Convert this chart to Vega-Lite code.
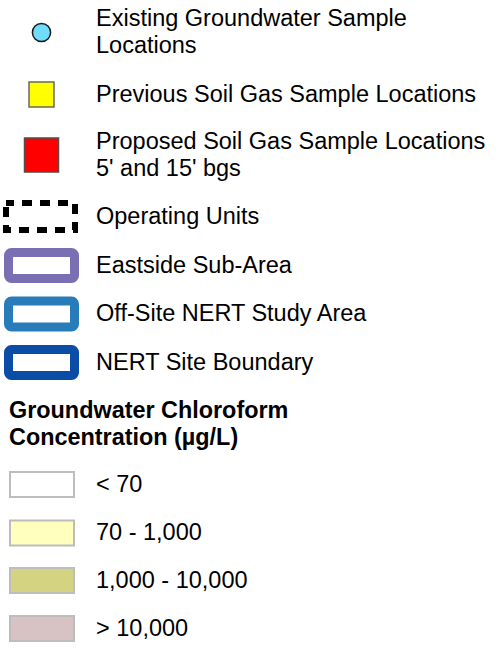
{
  "$schema": "https://vega.github.io/schema/vega-lite/v6.json",
  "width": 498,
  "height": 650,
  "padding": 0,
  "autosize": {"type": "fit", "contains": "padding"},
  "background": "white",
  "config": {"view": {"stroke": null}, "font": "Liberation Sans"},
  "data": {
    "values": [
      {"order": 1, "group": "circle", "item": "Existing Groundwater Sample Locations", "label": "Existing Groundwater Sample\nLocations"},
      {"order": 2, "group": "smallsquare", "item": "Previous Soil Gas Sample Locations", "label": "Previous Soil Gas Sample Locations"},
      {"order": 3, "group": "bigsquare", "item": "Proposed Soil Gas Sample Locations", "label": "Proposed Soil Gas Sample Locations\n5' and 15' bgs"},
      {"order": 4, "group": "dashed", "item": "Operating Units", "label": "Operating Units"},
      {"order": 5, "group": "boundary", "item": "Eastside Sub-Area", "label": "Eastside Sub-Area"},
      {"order": 6, "group": "boundary", "item": "Off-Site NERT Study Area", "label": "Off-Site NERT Study Area"},
      {"order": 7, "group": "boundary", "item": "NERT Site Boundary", "label": "NERT Site Boundary"},
      {"order": 8, "group": "title", "item": "Groundwater Chloroform Concentration (µg/L)", "label": "Groundwater Chloroform\nConcentration (µg/L)"},
      {"order": 9, "group": "class", "item": "< 70", "label": "< 70"},
      {"order": 10, "group": "class", "item": "70 - 1,000", "label": "70 - 1,000"},
      {"order": 11, "group": "class", "item": "1,000 - 10,000", "label": "1,000 - 10,000"},
      {"order": 12, "group": "class", "item": "> 10,000", "label": "> 10,000"}
    ]
  },
  "encoding": {
    "y": {
      "field": "order",
      "type": "quantitative",
      "axis": null,
      "scale": {
        "domain": [1, 2, 3, 4, 5, 6, 7, 8, 9, 10, 11, 12],
        "range": [32.5, 94.5, 155, 216.5, 265.5, 314, 362.5, 424, 484.5, 533, 580.5, 628.5],
        "zero": false,
        "nice": false
      }
    },
    "x": {"datum": 41.5, "type": "quantitative", "axis": null, "scale": {"domain": [0, 498], "zero": false, "nice": false}}
  },
  "resolve": {"scale": {"fill": "independent", "stroke": "independent"}},
  "layer": [
    {
      "transform": [{"filter": "datum.group === 'circle'"}],
      "mark": {"type": "point", "shape": "circle", "filled": true, "fill": "#70DBFA", "stroke": "#1a1a1a", "strokeWidth": 1.5, "opacity": 1, "size": 330}
    },
    {
      "transform": [{"filter": "datum.group === 'smallsquare'"}],
      "mark": {"type": "point", "shape": "square", "filled": true, "fill": "#FFFF00", "stroke": "#6a6a5a", "strokeWidth": 1.5, "opacity": 1, "size": 625}
    },
    {
      "transform": [{"filter": "datum.group === 'bigsquare'"}],
      "mark": {"type": "point", "shape": "square", "filled": true, "fill": "#FF0000", "stroke": "#5a4a4a", "strokeWidth": 1.5, "opacity": 1, "size": 1156}
    },
    {
      "transform": [{"filter": "datum.group === 'dashed'"}],
      "mark": {"type": "rect", "fill": null, "fillOpacity": 0, "stroke": "#000000", "strokeWidth": 6, "strokeDash": [10, 8], "strokeDashOffset": 2, "width": 69, "height": 27},
      "encoding": {
        "x": {"datum": 40.5, "type": "quantitative"}
      }
    },
    {
      "transform": [{"filter": "datum.group === 'boundary'"}],
      "mark": {"type": "rect", "fill": "#FFFFFF", "strokeWidth": 9, "cornerRadius": 3, "width": 66, "height": 26},
      "encoding": {
        "stroke": {"field": "item", "type": "nominal", "legend": null, "scale": {"domain": ["Eastside Sub-Area", "Off-Site NERT Study Area", "NERT Site Boundary"], "range": ["#7B6FB3", "#297CBA", "#0A4CA6"]}}
      }
    },
    {
      "transform": [{"filter": "datum.group === 'class'"}],
      "mark": {"type": "rect", "stroke": "#BDBDBD", "strokeWidth": 2, "width": 64, "height": 25},
      "encoding": {
        "x": {"datum": 42, "type": "quantitative"},
        "fill": {"field": "item", "type": "nominal", "legend": null, "scale": {"domain": ["< 70", "70 - 1,000", "1,000 - 10,000", "> 10,000"], "range": ["#FFFFFF", "#FFFFBE", "#D3D382", "#D7C3C4"]}}
      }
    },
    {
      "transform": [{"filter": "datum.group !== 'title' && datum.order !== 1 && datum.order !== 3"}],
      "mark": {"type": "text", "align": "left", "baseline": "middle", "fontSize": 23.5, "lineHeight": 27, "lineBreak": "\n", "color": "#000000", "font": "Liberation Sans"},
      "encoding": {
        "x": {"datum": 96, "type": "quantitative"},
        "text": {"field": "label"}
      }
    },
    {
      "transform": [{"filter": "datum.order === 1 || datum.order === 3"}],
      "mark": {"type": "text", "align": "left", "baseline": "middle", "fontSize": 23.5, "lineHeight": 27, "lineBreak": "\n", "dy": -13.5, "color": "#000000", "font": "Liberation Sans"},
      "encoding": {
        "x": {"datum": 96, "type": "quantitative"},
        "text": {"field": "label"}
      }
    },
    {
      "transform": [{"filter": "datum.group === 'title'"}],
      "mark": {"type": "text", "align": "left", "baseline": "middle", "fontSize": 23.4, "fontWeight": "bold", "lineHeight": 27, "lineBreak": "\n", "dy": -13.5, "color": "#000000", "font": "Liberation Sans"},
      "encoding": {
        "x": {"datum": 9, "type": "quantitative"},
        "text": {"field": "label"}
      }
    }
  ]
}
